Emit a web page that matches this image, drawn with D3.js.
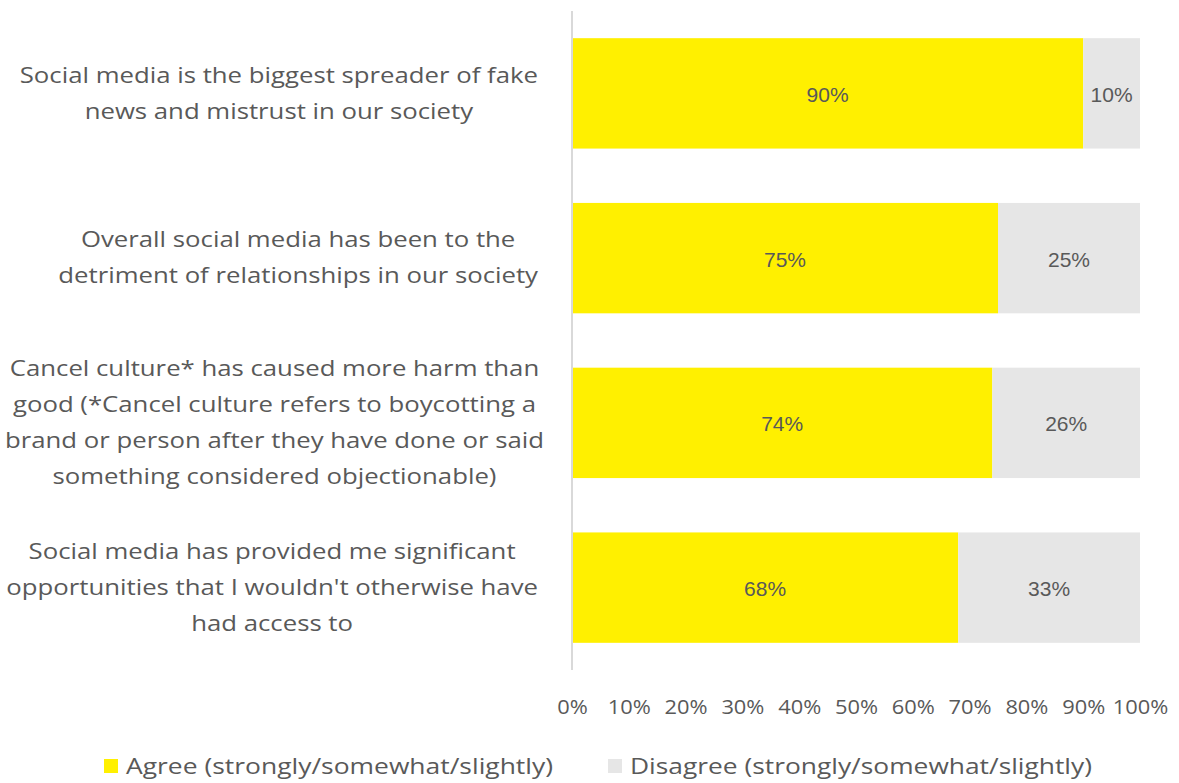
<!DOCTYPE html>
<html>
<head>
<meta charset="utf-8">
<script src="https://cdn.jsdelivr.net/npm/d3@7"></script>
<style>
  html, body { margin: 0; padding: 0; background: #fff; }
  svg { display: block; }
</style>
</head>
<body>
<svg id="chart" width="1179" height="783"></svg>
<script>
// Statements (each split into the lines shown beside its bar)
const statements = [
  ["Social media is the biggest spreader of fake", "news and mistrust in our society"],
  ["Overall social media has been to the", "detriment of relationships in our society"],
  ["Cancel culture* has caused more harm than", "good (*Cancel culture refers to boycotting a", "brand or person after they have done or said", "something considered objectionable)"],
  ["Social media has provided me significant", "opportunities that I wouldn't otherwise have", "had access to"]
];
const agree = [90, 75, 74, 68];
const disagree = [10, 25, 26, 33];
const seriesNames = ["Agree (strongly/somewhat/slightly)", "Disagree (strongly/somewhat/slightly)"];
const tickValues = [0, 10, 20, 30, 40, 50, 60, 70, 80, 90, 100];

const colors = ["#FFF000", "#E6E6E6"];
const textColor = "#595959";
const labelFont = "'Open Sans', 'Noto Sans', sans-serif";
const valueFont = "'Liberation Sans', Arial, sans-serif";

const svg = d3.select("#chart");

const x = d3.scaleLinear().domain([0, 100]).range([572, 1140]).clamp(true);
const y = d3.scaleBand()
  .domain(d3.range(statements.length))
  .range([11, 670])
  .paddingInner(0.33)
  .paddingOuter(0.165);

// Helper: measure natural text width in a given font size
const measure = svg.append("text")
  .attr("font-family", labelFont)
  .attr("visibility", "hidden");
function textWidth(s, size) {
  measure.attr("font-size", size).text(s);
  return measure.node().getComputedTextLength();
}
// Wide-set text: glyphs are widened by this factor
const widen = 1.17;

// Stack the two series
const rows = agree.map((a, i) => ({ i, agree: a, disagree: disagree[i] }));
const stacked = d3.stack().keys(["agree", "disagree"])(rows);

const gBars = svg.append("g");
stacked.forEach((layer, k) => {
  gBars.selectAll(null)
    .data(layer)
    .join("rect")
    .attr("x", d => x(d[0]))
    .attr("y", d => y(d.data.i))
    .attr("width", d => x(d[1]) - x(d[0]))
    .attr("height", y.bandwidth())
    .attr("fill", colors[k]);

  gBars.selectAll(null)
    .data(layer)
    .join("text")
    .attr("x", d => (x(d[0]) + x(d[1])) / 2)
    .attr("y", d => y(d.data.i) + y.bandwidth() / 2)
    .attr("dy", "0.4em")
    .attr("text-anchor", "middle")
    .attr("font-family", valueFont)
    .attr("font-size", 21)
    .attr("fill", textColor)
    .text(d => d.data[k === 0 ? "agree" : "disagree"] + "%");
});

// Vertical category axis line
svg.append("line")
  .attr("x1", 572).attr("x2", 572)
  .attr("y1", y.range()[0]).attr("y2", y.range()[1])
  .attr("stroke", "#D9D9D9")
  .attr("stroke-width", 2);

// Bottom percentage axis (labels only)
const tickSize = 19.5;
const xAxis = d3.axisBottom(x)
  .tickValues(tickValues)
  .tickFormat(d => d + "%")
  .tickSize(0)
  .tickPadding(0);
const gx = svg.append("g").attr("transform", "translate(0,700)").call(xAxis);
gx.select(".domain").remove();
gx.selectAll("text")
  .attr("font-family", labelFont)
  .attr("font-size", tickSize)
  .attr("fill", textColor)
  .attr("textLength", function () { return textWidth(this.textContent, tickSize) * 1.12; })
  .attr("lengthAdjust", "spacingAndGlyphs");

// Category labels: block right-aligned near the axis, lines centred within it
const labelSize = 22;
const lineH = 36;
const gLabels = svg.append("g");

statements.forEach((lines, i) => {
  const widths = lines.map(l => textWidth(l, labelSize) * widen);
  const maxW = d3.max(widths);
  const cx = Math.max(538 - maxW / 2, maxW / 2 + 5);
  const cy = y(i) + y.bandwidth() / 2;
  lines.forEach((line, j) => {
    gLabels.append("text")
      .attr("x", cx)
      .attr("y", cy + (j - (lines.length - 1) / 2) * lineH)
      .attr("dy", "0.33em")
      .attr("text-anchor", "middle")
      .attr("font-family", labelFont)
      .attr("font-size", labelSize)
      .attr("fill", textColor)
      .attr("textLength", widths[j])
      .attr("lengthAdjust", "spacingAndGlyphs")
      .text(line);
  });
});
measure.remove();

// Legend
const legendX = [104, 608];
const legendW = [427, 462];
const gLegend = svg.append("g");
seriesNames.forEach((name, k) => {
  gLegend.append("rect")
    .attr("x", legendX[k]).attr("y", 759)
    .attr("width", 14).attr("height", 14)
    .attr("fill", colors[k]);
  gLegend.append("text")
    .attr("x", legendX[k] + 22)
    .attr("y", 766)
    .attr("dy", "0.35em")
    .attr("font-family", labelFont)
    .attr("font-size", 22)
    .attr("fill", textColor)
    .attr("textLength", legendW[k])
    .attr("lengthAdjust", "spacingAndGlyphs")
    .text(name);
});
</script>
</body>
</html>
